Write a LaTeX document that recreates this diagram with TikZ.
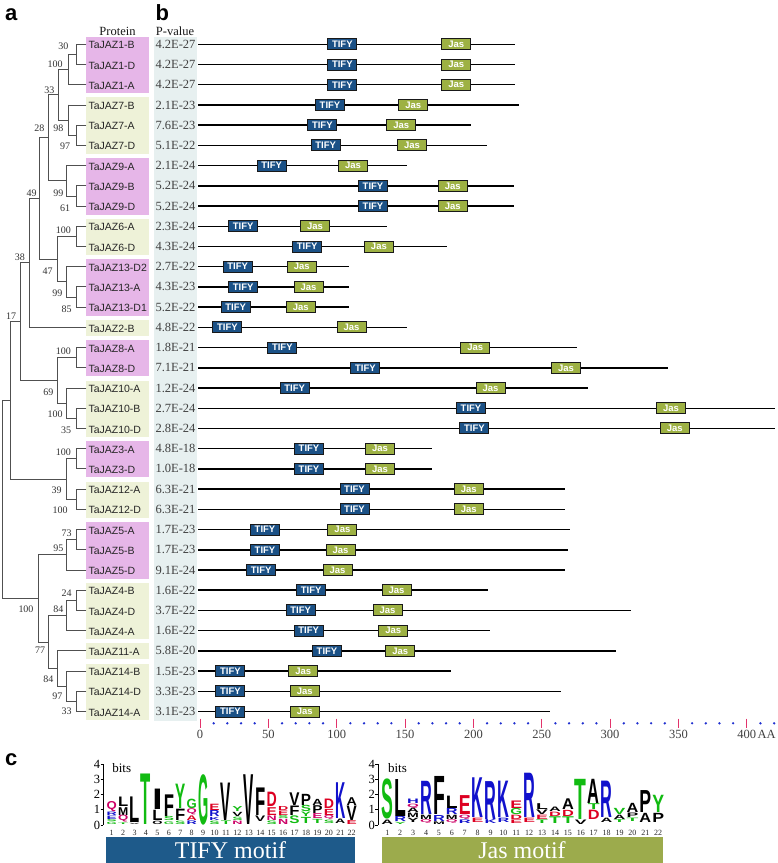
\documentclass[tikz,border=0pt]{standalone}
\usepackage{fontspec}
\usepackage{graphicx}
\setmainfont{Liberation Serif}
\newfontfamily\arialf{Liberation Sans}
\definecolor{lgreen}{HTML}{11BB11}
\definecolor{lblue}{HTML}{1111CC}
\definecolor{lred}{HTML}{DD0022}
\definecolor{lpur}{HTML}{CC0066}
\definecolor{pinkbox}{HTML}{E6B6E8}
\definecolor{greenbox}{HTML}{EEF2D8}
\definecolor{pvbg}{HTML}{E7F0F0}
\definecolor{tifyc}{HTML}{1B5186}
\definecolor{jasc}{HTML}{9DB143}
\definecolor{tifybar}{HTML}{1E5A8A}
\definecolor{jasbar}{HTML}{9CAB4C}
\definecolor{tickred}{HTML}{E2336B}
\definecolor{dotblue}{HTML}{2030D0}
\definecolor{treec}{HTML}{505050}
\newcommand\LG[6]{%
  \pgfmathsetmacro\lgh{(#3-#2)*15.2-0.4}%
  \pgfmathsetmacro\lgy{825.0-#2*15.2-0.2}%
  \node[inner sep=0pt,outer sep=0pt,anchor=south,text=#5] at (#1,\lgy) {\resizebox*{#6pt}{\lgh pt}{\arialf\bfseries #4}};%
}
\newcommand\TL[5]{\pgfmathsetmacro\lgx{111.7+(#1-1)*11.43}\LG{\lgx}{#2}{#3}{#4}{#5}{10.2}}
\newcommand\JL[5]{\pgfmathsetmacro\lgx{387.3+(#1-1)*12.9}\LG{\lgx}{#2}{#3}{#4}{#5}{11.8}}
\begin{document}
\begin{tikzpicture}[x=1pt,y=-1pt,
  tree/.style={draw=treec,line width=0.9pt,line cap=rect},
  boot/.style={font=\fontsize{10}{11}\selectfont,text=black!80,inner sep=0pt},
  pname/.style={font=\arialf\fontsize{10.5}{12}\selectfont,anchor=west,inner sep=0pt,text=black!85},
  pval/.style={font=\fontsize{12.5}{14}\selectfont,inner sep=0pt,text=black!75},
  head/.style={font=\fontsize{12.5}{14}\selectfont,inner sep=0pt,text=black!90},
  panel/.style={font=\arialf\bfseries\fontsize{22}{24}\selectfont,inner sep=0pt,anchor=base west},
  geneline/.style={draw=black,line width=1.5pt},
  tifybox/.style={draw=black!90,line width=1pt,fill=tifyc,text=white,minimum width=29pt,minimum height=11pt,inner sep=0pt,font=\arialf\bfseries\fontsize{9.5}{10}\selectfont},
  jasbox/.style={draw=black!90,line width=1pt,fill=jasc,text=white,minimum width=29pt,minimum height=11pt,inner sep=0pt,font=\arialf\bfseries\fontsize{9.5}{10}\selectfont},
  axlab/.style={font=\fontsize{12.5}{14}\selectfont,inner sep=0pt,text=black!75},
  posnum/.style={font=\fontsize{8}{8.5}\selectfont,inner sep=0pt,text=black!85},
  bitlab/.style={font=\fontsize{12.5}{14}\selectfont,inner sep=0pt},
  barlab/.style={font=\fontsize{24}{26}\selectfont,text=white,inner sep=0pt}]
\useasboundingbox (0,0) rectangle (778,863);
\fill[white] (0,0) rectangle (778,863);
% panel letters
\node[panel] (pa) at (5,20) {a};
\node[panel] (pb) at (155.5,20) {b};
\node[panel] (pc) at (5,765) {c};
% headers
\node[head] (hprot) at (117.5,31.7) {Protein};
\node[head] (hpval) at (175,31.7) {P-value};
% p-value column background
\fill[pvbg] (154,37) rectangle (197,721);
% group boxes
\foreach \a/\b/\c in {1/3/pinkbox,4/6/greenbox,7/9/pinkbox,10/11/greenbox,12/14/pinkbox,15/15/greenbox,16/17/pinkbox,18/20/greenbox,21/22/pinkbox,23/24/greenbox,25/27/pinkbox,28/30/greenbox,31/31/greenbox,32/34/greenbox}{
  \fill[\c] (86,{44.3+(\a-1)*20.22-7.5}) rectangle (149,{44.3+(\b-1)*20.22+8.5});
}
% names and p-values
\foreach \i/\n/\p in {1/TaJAZ1-B/4.2E-27,2/TaJAZ1-D/4.2E-27,3/TaJAZ1-A/4.2E-27,4/TaJAZ7-B/2.1E-23,5/TaJAZ7-A/7.6E-23,6/TaJAZ7-D/5.1E-22,7/TaJAZ9-A/2.1E-24,8/TaJAZ9-B/5.2E-24,9/TaJAZ9-D/5.2E-24,10/TaJAZ6-A/2.3E-24,11/TaJAZ6-D/4.3E-24,12/TaJAZ13-D2/2.7E-22,13/TaJAZ13-A/4.3E-23,14/TaJAZ13-D1/5.2E-22,15/TaJAZ2-B/4.8E-22,16/TaJAZ8-A/1.8E-21,17/TaJAZ8-D/7.1E-21,18/TaJAZ10-A/1.2E-24,19/TaJAZ10-B/2.7E-24,20/TaJAZ10-D/2.8E-24,21/TaJAZ3-A/4.8E-18,22/TaJAZ3-D/1.0E-18,23/TaJAZ12-A/6.3E-21,24/TaJAZ12-D/6.3E-21,25/TaJAZ5-A/1.7E-23,26/TaJAZ5-B/1.7E-23,27/TaJAZ5-D/9.1E-24,28/TaJAZ4-B/1.6E-22,29/TaJAZ4-D/3.7E-22,30/TaJAZ4-A/1.6E-22,31/TaJAZ11-A/5.8E-20,32/TaJAZ14-B/1.5E-23,33/TaJAZ14-D/3.3E-23,34/TaJAZ14-A/3.1E-23}{
  \pgfmathsetmacro\yy{44.3+(\i-1)*20.22}
  \node[pname] (nm\i) at (88.3,\yy+1) {\n};
  \node[pval] (pv\i) at (175.5,\yy) {\p};
}
% tree
\draw[tree]
 (76,44.3)--(86,44.3) (76,64.52)--(86,64.52) (76,44.3)--(76,64.52)
 (68.3,54.41)--(76,54.41) (68.3,84.74)--(86,84.74) (68.3,54.41)--(68.3,84.74)
 (58.3,69.58)--(68.3,69.58)
 (68,104.96)--(86,104.96) (76,125.18)--(86,125.18) (76,145.4)--(86,145.4) (76,125.18)--(76,145.4)
 (68,135.29)--(76,135.29) (68,104.96)--(68,135.29) (58.3,120.13)--(68,120.13)
 (58.3,69.58)--(58.3,120.13) (48.3,94.85)--(58.3,94.85)
 (66.7,165.62)--(86,165.62) (76,185.84)--(86,185.84) (76,206.06)--(86,206.06) (76,185.84)--(76,206.06)
 (66.7,195.95)--(76,195.95) (66.7,165.62)--(66.7,195.95) (48.3,180.79)--(66.7,180.79)
 (48.3,94.85)--(48.3,180.79) (39.3,137.82)--(48.3,137.82)
 (76,226.28)--(86,226.28) (76,246.5)--(86,246.5) (76,226.28)--(76,246.5) (57.7,236.39)--(76,236.39)
 (66.7,266.72)--(86,266.72) (76,286.94)--(86,286.94) (76,307.16)--(86,307.16) (76,286.94)--(76,307.16)
 (66.7,297.05)--(76,297.05) (66.7,266.72)--(66.7,297.05) (57.7,281.89)--(66.7,281.89)
 (57.7,236.39)--(57.7,281.89) (39.3,259.14)--(57.7,259.14)
 (39.3,137.82)--(39.3,259.14) (29.7,198.48)--(39.3,198.48)
 (29.7,327.38)--(86,327.38) (29.7,198.48)--(29.7,327.38) (20.3,262.93)--(29.7,262.93)
 (76,347.6)--(86,347.6) (76,367.82)--(86,367.82) (76,347.6)--(76,367.82) (57.7,357.71)--(76,357.71)
 (66,388.04)--(86,388.04) (76,408.26)--(86,408.26) (76,428.48)--(86,428.48) (76,408.26)--(76,428.48)
 (66,418.37)--(76,418.37) (66,388.04)--(66,418.37) (57.7,403.2)--(66,403.2)
 (57.7,357.71)--(57.7,403.2) (20.3,380.46)--(57.7,380.46)
 (20.3,262.93)--(20.3,380.46) (10,321.7)--(20.3,321.7)
 (76,448.7)--(86,448.7) (76,468.92)--(86,468.92) (76,448.7)--(76,468.92) (66.7,458.81)--(76,458.81)
 (76,489.14)--(86,489.14) (76,509.36)--(86,509.36) (76,489.14)--(76,509.36) (66.7,499.25)--(76,499.25)
 (66.7,458.81)--(66.7,499.25) (10,479.03)--(66.7,479.03)
 (10,321.7)--(10,479.03) (2.7,400.37)--(10,400.37)
 (76,529.58)--(86,529.58) (76,549.8)--(86,549.8) (76,529.58)--(76,549.8) (66.7,539.69)--(76,539.69)
 (66.7,570.02)--(86,570.02) (66.7,539.69)--(66.7,570.02) (38.3,554.86)--(66.7,554.86)
 (76,590.24)--(86,590.24) (76,610.46)--(86,610.46) (76,590.24)--(76,610.46) (66.7,600.35)--(76,600.35)
 (66.7,630.68)--(86,630.68) (66.7,600.35)--(66.7,630.68) (48.3,615.52)--(66.7,615.52)
 (57.3,650.9)--(86,650.9)
 (66.7,671.12)--(86,671.12) (76,691.34)--(86,691.34) (76,711.56)--(86,711.56) (76,691.34)--(76,711.56)
 (66.7,701.45)--(76,701.45) (66.7,671.12)--(66.7,701.45) (57.3,686.29)--(66.7,686.29)
 (57.3,650.9)--(57.3,686.29) (48.3,668.6)--(57.3,668.6)
 (48.3,615.52)--(48.3,668.6) (38.3,642.06)--(48.3,642.06)
 (38.3,554.86)--(38.3,642.06) (2.7,598.46)--(38.3,598.46)
 (2.7,400.37)--(2.7,598.46);
% bootstrap values
\foreach \v/\x/\y [count=\c] in {30/63.3/46.7,100/55/64.3,33/49.3/90.7,28/39.3/128.3,98/58.3/128.3,97/65/146.7,49/31.7/193.3,99/58.3/193.3,61/65/208.3,100/63.3/230.7,38/20/257.3,47/47.7/271,99/57.3/293.3,85/66.7/309.3,17/11/316,100/63.3/351.7,69/48.3/392.3,100/55/414.3,35/66/430,100/63.3/452.3,39/56.7/490.7,100/60/510.7,73/66.7/533.3,95/58.3/548.3,24/66.7/593.3,84/58.3/609.3,100/26/609.3,77/40/650,84/48.3/679.3,97/57.3/696.7,33/66.7/711.7}{
  \node[boot] (bs\c) at (\x,\y) {\v};
}
% gene structures
\foreach \i/\e/\t/\j in {1/515/327.3/441.3,2/515/327.3/441.3,3/515/327.3/441.3,4/519/315/398.3,5/470.7/307.3/386.3,6/487/310.7/397,7/407/256.7/338,8/513.7/358/437.7,9/513.7/358/437.7,10/386.5/228.2/300,11/447/292.1/363.9,12/348.9/222.6/286.8,13/348.9/228.2/293.6,14/348.9/220.7/285.7,15/406.8/212.4/336.5,16/577.4/267.3/460.2,17/668/350.4/551.1,18/588/279.7/475.6,19/775/456/656,20/775/459.4/659.8,21/432.3/294/365,22/432.3/294/365,23/565.4/339.5/453.8,24/565.4/339.5/453.8,25/569.5/250/327.4,26/568/250/325.6,27/565.4/246.2/322.6,28/488/296.2/381.6,29/630.8/285.7/372.6,30/490.3/293.6/378.2,31/615.8/312/385.3,32/451.1/215.4/288.3,33/561.3/215.4/289.8,34/550/215.4/289.8}{
  \pgfmathsetmacro\yy{44.3+(\i-1)*20.22}
  \coordinate (gs\i) at (198,\yy);
  \coordinate (ge\i) at (\e,\yy);
  \draw[geneline] (gs\i) -- (ge\i);
  \node[tifybox,anchor=west] (tf\i) at (\t,\yy) {TIFY};
  \node[jasbox,anchor=west] (js\i) at (\j,\yy) {Jas};
}
% axis
\foreach \k in {0,...,42}{
  \pgfmathtruncatemacro\m{mod(\k,5)}
  \ifnum\m=0
    \draw[tickred,line width=1pt] ({200+\k*13.67},718.5) -- ({200+\k*13.67},728);
  \else
    \fill[dotblue] ({200+\k*13.67},723.3) circle[radius=1.3pt];
  \fi
}
\foreach \v/\k in {0/0,50/5,100/10,150/15,200/20,250/25,300/30,350/35}{
  \node[axlab] (ax\k) at ({200+\k*13.67},734.5) {\v};
}
\node[axlab] (ax40) at (746.7,734.5) {400};
\node[axlab,anchor=west] (axAA) at (757.3,734.5) {AA};
% logo axes
\draw[line width=0.8pt] (103.3,764.2) -- (103.3,825);
\draw[line width=0.8pt] (378,764.2) -- (378,825);
\foreach \b in {0,...,4}{
  \draw[line width=0.8pt] (100.5,{825-\b*15.2}) -- (103.3,{825-\b*15.2});
  \node[bitlab] at (97,{825-\b*15.2}) {\b};
  \draw[line width=0.8pt] (375.2,{825-\b*15.2}) -- (378,{825-\b*15.2});
  \node[bitlab] at (371.8,{825-\b*15.2}) {\b};
}
\node[bitlab,font=\fontsize{13}{14}\selectfont] (bits1) at (121.7,768.3) {bits};
\node[bitlab,font=\fontsize{13}{14}\selectfont] (bits2) at (397.5,768.3) {bits};
\foreach \i in {1,...,22}{
  \node[posnum,anchor=north] at ({111.7+(\i-1)*11.43},830) {\i};
  \node[posnum,anchor=north] at ({387.3+(\i-1)*12.9},830) {\i};
}
% TIFY logo
\TL{1}{0.02}{0.2}{G}{lgreen}\TL{1}{0.2}{0.35}{S}{lgreen}\TL{1}{0.35}{0.6}{E}{lblue}\TL{1}{0.6}{0.85}{R}{lblue}\TL{1}{0.85}{1.55}{Q}{lpur}
\TL{2}{0.02}{0.15}{T}{lgreen}\TL{2}{0.15}{0.64}{Q}{lpur}\TL{2}{0.64}{1.18}{M}{black}\TL{2}{1.18}{1.83}{L}{black}
\TL{3}{0.02}{0.12}{V}{black}\TL{3}{0.12}{1.83}{L}{black}
\TL{4}{0}{3.35}{T}{lgreen}
\TL{5}{0.05}{0.3}{O}{black}\TL{5}{0.3}{1.0}{L}{black}\TL{5}{1.0}{2.37}{I}{black}
\TL{6}{0.05}{0.25}{G}{lgreen}\TL{6}{0.25}{0.55}{S}{lgreen}\TL{6}{0.55}{2.0}{F}{black}
\TL{7}{0.05}{0.3}{S}{lgreen}\TL{7}{0.3}{1.07}{F}{black}\TL{7}{1.07}{2.7}{Y}{lgreen}
\TL{8}{0.05}{0.31}{R}{lblue}\TL{8}{0.31}{0.64}{A}{lred}\TL{8}{0.64}{1.07}{Q}{lpur}\TL{8}{1.07}{1.72}{G}{lgreen}
\TL{9}{0}{3.35}{G}{lgreen}
\TL{10}{0.05}{0.3}{S}{lgreen}\TL{10}{0.3}{0.53}{K}{lblue}\TL{10}{0.53}{0.96}{R}{lblue}\TL{10}{0.96}{1.4}{E}{lred}
\TL{11}{0.05}{0.31}{T}{lgreen}\TL{11}{0.31}{2.8}{V}{black}
\TL{12}{0.05}{0.3}{N}{lpur}\TL{12}{0.3}{0.55}{S}{lgreen}\TL{12}{0.55}{0.85}{V}{black}\TL{12}{0.85}{1.2}{Y}{lgreen}
\TL{13}{0}{3.3}{V}{black}
\TL{14}{0.25}{0.64}{V}{black}\TL{14}{0.64}{2.48}{F}{black}
\TL{15}{0.05}{0.31}{S}{lgreen}\TL{15}{0.31}{0.64}{N}{lpur}\TL{15}{0.64}{1.18}{E}{lred}\TL{15}{1.18}{2.15}{D}{lred}
\TL{16}{0.05}{0.42}{N}{lpur}\TL{16}{0.42}{0.64}{S}{lgreen}\TL{16}{0.64}{0.96}{E}{lred}\TL{16}{0.96}{1.25}{D}{lred}
\TL{17}{0.1}{0.64}{S}{lgreen}\TL{17}{0.64}{1.29}{F}{black}\TL{17}{1.29}{2.15}{V}{black}
\TL{18}{0.1}{0.53}{T}{lgreen}\TL{18}{0.53}{0.85}{Y}{lgreen}\TL{18}{0.85}{1.29}{S}{lgreen}\TL{18}{1.29}{2.05}{P}{black}
\TL{19}{0.1}{0.4}{T}{lgreen}\TL{19}{0.4}{0.75}{E}{lpur}\TL{19}{0.75}{1.29}{P}{black}\TL{19}{1.29}{1.72}{A}{black}
\TL{20}{0.1}{0.35}{S}{lgreen}\TL{20}{0.35}{0.64}{Q}{lpur}\TL{20}{0.64}{1.07}{E}{lred}\TL{20}{1.07}{1.72}{D}{lred}
\TL{21}{0.1}{0.42}{A}{black}\TL{21}{0.42}{2.8}{K}{lblue}
\TL{22}{0.02}{0.31}{E}{lred}\TL{22}{0.31}{1.29}{V}{black}\TL{22}{1.29}{1.83}{A}{black}
% Jas logo
\JL{1}{0.04}{0.36}{A}{black}\JL{1}{0.36}{3.03}{S}{lgreen}
\JL{2}{0.04}{0.21}{Y}{lgreen}\JL{2}{0.21}{0.57}{R}{lblue}\JL{2}{0.57}{3.03}{L}{black}
\JL{3}{0.15}{0.46}{Y}{black}\JL{3}{0.46}{0.78}{M}{black}\JL{3}{0.78}{1.1}{A}{black}\JL{3}{1.1}{1.41}{Q}{lpur}\JL{3}{1.41}{1.73}{H}{lblue}
\JL{4}{0.1}{0.36}{Q}{lpur}\JL{4}{0.36}{0.67}{M}{black}\JL{4}{0.67}{2.88}{R}{lblue}
\JL{5}{0.05}{0.25}{M}{black}\JL{5}{0.25}{0.67}{R}{lblue}\JL{5}{0.67}{3.2}{F}{black}
\JL{6}{0.1}{0.36}{Q}{lpur}\JL{6}{0.36}{0.67}{M}{black}\JL{6}{0.67}{1.1}{R}{lblue}\JL{6}{1.1}{1.94}{L}{black}
\JL{7}{0.1}{0.36}{R}{lblue}\JL{7}{0.36}{0.67}{Q}{lpur}\JL{7}{0.67}{1.94}{E}{lred}
\JL{8}{0.15}{0.46}{E}{lred}\JL{8}{0.46}{3.1}{K}{lblue}
\JL{9}{0.08}{0.36}{K}{lblue}\JL{9}{0.36}{2.88}{R}{lblue}
\JL{10}{0.15}{0.46}{R}{lblue}\JL{10}{0.46}{2.88}{K}{lblue}
\JL{11}{0.1}{0.36}{E}{lred}\JL{11}{0.36}{0.67}{D}{lred}\JL{11}{0.67}{1.1}{G}{lgreen}\JL{11}{1.1}{1.62}{E}{lred}
\JL{12}{0.15}{0.46}{E}{lred}\JL{12}{0.46}{3.4}{R}{lblue}
\JL{13}{0.1}{0.36}{T}{lgreen}\JL{13}{0.36}{0.67}{E}{lred}\JL{13}{0.67}{1.0}{V}{black}\JL{13}{1.0}{1.41}{L}{black}
\JL{14}{0.1}{0.57}{T}{lgreen}\JL{14}{0.57}{0.88}{D}{lred}\JL{14}{0.88}{1.2}{A}{black}
\JL{15}{0.1}{0.57}{T}{lgreen}\JL{15}{0.57}{1.0}{D}{lred}\JL{15}{1.0}{1.73}{A}{black}
\JL{16}{0.04}{0.36}{V}{black}\JL{16}{0.36}{3.03}{T}{lgreen}
\JL{17}{0.36}{1.0}{D}{lred}\JL{17}{1.0}{1.41}{T}{lgreen}\JL{17}{1.41}{3.03}{A}{black}
\JL{18}{0.15}{0.46}{A}{black}\JL{18}{0.46}{2.88}{R}{lblue}
\JL{19}{0.15}{0.36}{T}{lgreen}\JL{19}{0.36}{0.67}{A}{black}\JL{19}{0.67}{1.1}{V}{lgreen}
\JL{20}{0.21}{0.46}{T}{lgreen}\JL{20}{0.46}{0.78}{P}{black}\JL{20}{0.78}{1.41}{A}{black}
\JL{21}{0.15}{0.78}{A}{black}\JL{21}{0.78}{2.25}{P}{black}
\JL{22}{0.15}{0.78}{P}{black}\JL{22}{0.78}{1.94}{Y}{lgreen}
% motif bars
\fill[tifybar] (106,837) rectangle (355,863);
\node[barlab] (tifylab) at (230.5,850) {TIFY motif};
\fill[jasbar] (381.7,837) rectangle (663,863);
\node[barlab] (jaslab) at (522,850) {Jas motif};
\end{tikzpicture}
\end{document}
